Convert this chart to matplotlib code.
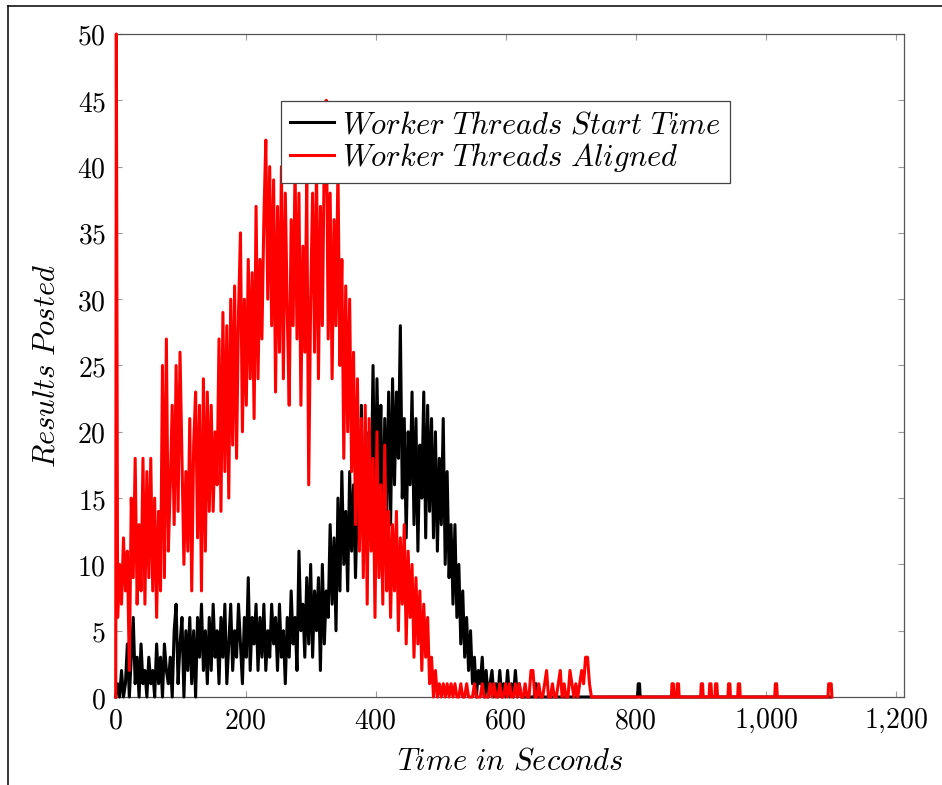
import numpy as np
import matplotlib
matplotlib.use("Agg")
import matplotlib.pyplot as plt
from matplotlib.lines import Line2D

plt.rcParams['mathtext.fontset'] = 'cm'
plt.rcParams['font.size'] = 20

# results posted per time step
step = 3

# "Worker Threads Aligned" (red)
red_head_t = [0, 1]
red_head_v = [0, 50]
red_start = 3
red_v = [
    6, 10, 7, 12, 8, 11, 2, 15, 9, 18,
    7, 13, 8, 18, 7, 17, 9, 18, 8, 15,
    6, 14, 8, 25, 9, 27, 11, 16, 22, 13,
    25, 14, 26, 18, 10, 17, 11, 21, 8, 19,
    23, 12, 22, 8, 24, 11, 23, 14, 22, 14,
    20, 16, 27, 14, 29, 17, 28, 15, 30, 19,
    31, 18, 29, 35, 20, 30, 22, 33, 24, 32,
    21, 37, 24, 33, 27, 36, 42, 30, 40, 28,
    39, 23, 37, 26, 40, 24, 38, 29, 22, 36,
    28, 40, 27, 38, 22, 34, 26, 39, 16, 30,
    38, 26, 40, 24, 37, 28, 41, 45, 27, 38,
    24, 36, 28, 40, 25, 33, 18, 31, 20, 30,
    17, 26, 13, 24, 11, 21, 9, 22, 7, 21,
    11, 18, 6, 20, 9, 16, 7, 19, 8, 14,
    6, 13, 8, 14, 5, 12, 7, 13, 4, 11,
    6, 10, 3, 9, 4, 8, 2, 7, 3, 6,
    1, 3, 0, 2, 0, 1, 0, 1, 0, 1,
    0, 1, 0, 1, 0, 0, 1, 0, 0, 1,
    0, 0, 0, 1, 0, 0, 0, 1, 0, 0,
    0, 1, 0, 1, 0, 0, 1, 0, 0, 1,
    0, 1, 0, 0, 1, 0, 1, 0, 0, 1,
    0, 0, 2, 2, 0, 0, 1, 0, 0, 1,
    2, 0, 0, 1, 0, 0, 1, 2, 0, 1,
    0, 0, 2, 1, 0, 1, 0, 1, 2, 1,
    3, 3, 1, 0, 0, 0,
]
red_tail_t = [741,
              855, 856, 858, 859,
              863, 864, 866, 867,
              900, 901, 903, 904,
              913, 914, 916, 917,
              922, 923, 925, 926,
              942, 943, 945, 946,
              957, 958, 960, 961,
              1014, 1015, 1017, 1018,
              1096, 1097, 1101, 1102]
red_tail_v = [0,
              0, 1, 1, 0,
              0, 1, 1, 0,
              0, 1, 1, 0,
              0, 1, 1, 0,
              0, 1, 1, 0,
              0, 1, 1, 0,
              0, 1, 1, 0,
              0, 1, 1, 0,
              0, 1, 1, 0]

# "Worker Threads Start Time" (black)
black_start = 0
black_v = [
    0, 1, 0, 2, 0, 1, 4, 0, 3, 6,
    1, 3, 0, 4, 1, 2, 0, 3, 1, 2,
    0, 4, 1, 3, 0, 4, 2, 1, 3, 0,
    5, 7, 1, 4, 6, 0, 5, 2, 6, 1,
    5, 0, 6, 3, 7, 2, 5, 1, 6, 2,
    7, 3, 5, 1, 6, 3, 7, 1, 4, 7,
    2, 5, 3, 7, 4, 1, 6, 3, 9, 2,
    6, 4, 7, 2, 6, 3, 7, 2, 5, 3,
    7, 4, 6, 2, 7, 3, 5, 1, 6, 3,
    8, 4, 6, 2, 11, 5, 7, 3, 9, 4,
    10, 3, 8, 5, 9, 2, 10, 4, 8, 6,
    13, 7, 12, 5, 15, 8, 17, 10, 14, 8,
    17, 11, 16, 9, 15, 12, 22, 14, 19, 11,
    20, 15, 25, 12, 24, 16, 22, 10, 21, 14,
    23, 13, 24, 16, 23, 18, 28, 15, 21, 12,
    20, 16, 23, 13, 21, 11, 19, 15, 23, 12,
    22, 14, 21, 12, 20, 11, 18, 13, 21, 10,
    17, 9, 13, 7, 13, 6, 10, 4, 8, 3,
    6, 2, 5, 1, 3, 0, 2, 1, 3, 0,
    2, 0, 1, 2, 0, 1, 0, 2, 0, 1,
    0, 2, 0, 1, 0, 2, 0, 1, 0, 0,
]
black_tail_t = [630, 644, 645, 647, 648, 803, 804, 806, 807, 1100]
black_tail_v = [0, 0, 1, 1, 0, 0, 1, 1, 0, 0]

x_ticks = [0, 200, 400, 600, 800, 1000, 1200]
y_ticks = [0, 5, 10, 15, 20, 25, 30, 35, 40, 45, 50]

red_t = np.concatenate([red_head_t, red_start + step * np.arange(len(red_v)), red_tail_t])
red_y = np.concatenate([red_head_v, red_v, red_tail_v])
black_t = np.concatenate([black_start + step * np.arange(len(black_v)), black_tail_t])
black_y = np.concatenate([black_v, black_tail_v])

fig = plt.figure(figsize=(9.42, 7.85), dpi=100)
ax = fig.add_axes([0.1228, 0.1121, 0.8369, 0.8446])

ax.plot(black_t, black_y, color='black', lw=2.2, zorder=3, clip_on=False,
        label=r'$Worker\ Threads\ Start\ Time$')
ax.plot(red_t, red_y, color='red', lw=2.2, zorder=3, clip_on=False,
        label=r'$Worker\ Threads\ Aligned$')

ax.set_xlim(0, 1213)
ax.set_ylim(0, 50)
ax.set_xticks(x_ticks)
ax.set_yticks(y_ticks)

def fmt(v):
    s = '{:,}'.format(int(v)).replace(',', '{,}')
    return '$' + s + '$'

ax.set_xticklabels([fmt(v) for v in x_ticks])
ax.set_yticklabels([fmt(v) for v in y_ticks])
ax.tick_params(direction='in', length=4.5, width=0.8, color='#999999',
               top=True, right=True, pad=7, labelsize=20)
for sp in ax.spines.values():
    sp.set_color('#555555')
    sp.set_linewidth(0.9)

ax.set_xlabel(r'$Time\ in\ Seconds$', fontsize=22, labelpad=8)
ax.set_ylabel(r'$Results\ Posted$', fontsize=22, labelpad=12)

leg = ax.legend(loc='upper left', bbox_to_anchor=(0.2097, 0.899),
                borderaxespad=0, fancybox=False, framealpha=1,
                edgecolor='#444444', fontsize=22, handlelength=1.45,
                handletextpad=0.25, labelspacing=0.05, borderpad=0.3)
leg.get_frame().set_linewidth(0.9)

# outer frame of the picture (left and top edges)
fx = 8 / 942
fy = 1 - 6 / 785
fig.add_artist(Line2D([fx, fx], [0, fy], transform=fig.transFigure, color='black', lw=1.1))
fig.add_artist(Line2D([fx, 1], [fy, fy], transform=fig.transFigure, color='black', lw=1.1))

fig.savefig('out.png', dpi=100)
